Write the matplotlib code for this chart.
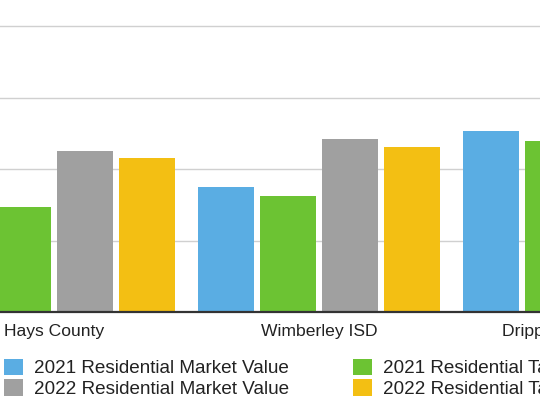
import matplotlib.pyplot as plt
import numpy as np

plt.rcParams['font.family'] = ['Liberation Sans', 'DejaVu Sans']

# Data (units = one gridline step); off-screen bars are estimates
districts = ["Hays County", "Wimberley ISD", "Dripping Springs ISD"]
market_2021 = [1.62, 1.75, 2.54]
taxable_2021 = [1.47, 1.62, 2.39]
market_2022 = [2.25, 2.42, 3.40]
taxable_2022 = [2.15, 2.31, 3.20]

series = [
    ("2021 Residential Market Value", market_2021, "#5aade3"),
    ("2021 Residential Taxable Value", taxable_2021, "#6cc333"),
    ("2022 Residential Market Value", market_2022, "#a0a0a0"),
    ("2022 Residential Taxable Value", taxable_2022, "#f3bf13"),
]

W, H = 540, 407
fig = plt.figure(figsize=(W / 100, H / 100), dpi=100)
ax = fig.add_axes([0, (H - 312) / H, 1, 312 / H])

x = np.arange(len(districts))
step = 62 / 265
width = 56 / 265

bars = []
for i, (label, vals, colour) in enumerate(series):
    b = ax.bar(x + (i - 1.5) * step, vals, width=width, color=colour, label=label, zorder=2)
    bars.append(b)

ax.set_yticks([1, 2, 3, 4])
ax.yaxis.grid(True, color="#d0d0d0", linewidth=1, zorder=0)
ax.tick_params(axis="y", left=False, labelleft=False)
ax.set_xticks([])
ax.set_xlim(-54 / 265, (W - 54) / 265)
ax.set_ylim(0, 312 / 71.4)

# category labels (drawn as text so the cut-off one still shows)
for xi, name in zip(x, districts):
    ax.annotate(name, xy=(xi, 0), xycoords=("data", "axes fraction"),
                xytext=(0, -8.5), textcoords="offset points",
                ha="center", va="top", fontsize=12.6, color="#222222",
                annotation_clip=False)

for side in ["top", "left", "right"]:
    ax.spines[side].set_visible(False)
ax.spines["bottom"].set_color("#333333")
ax.spines["bottom"].set_linewidth(1.6)
ax.spines["bottom"].set_zorder(3)

# legend: column-wise fill -> blue, gray | green, yellow
order = [0, 2, 1, 3]
fig.legend(
    [bars[i] for i in order],
    [series[i][0] for i in order],
    ncol=2,
    loc="upper left",
    bbox_to_anchor=(4 / W, 1 - 358.5 / H),
    frameon=False,
    fontsize=13.6,
    borderpad=0,
    borderaxespad=0,
    handlelength=1.0,
    handleheight=1.0,
    handletextpad=0.58,
    labelspacing=0.07,
    columnspacing=3.39,
    labelcolor="#222222",
)

fig.savefig("out.png", dpi=100)
